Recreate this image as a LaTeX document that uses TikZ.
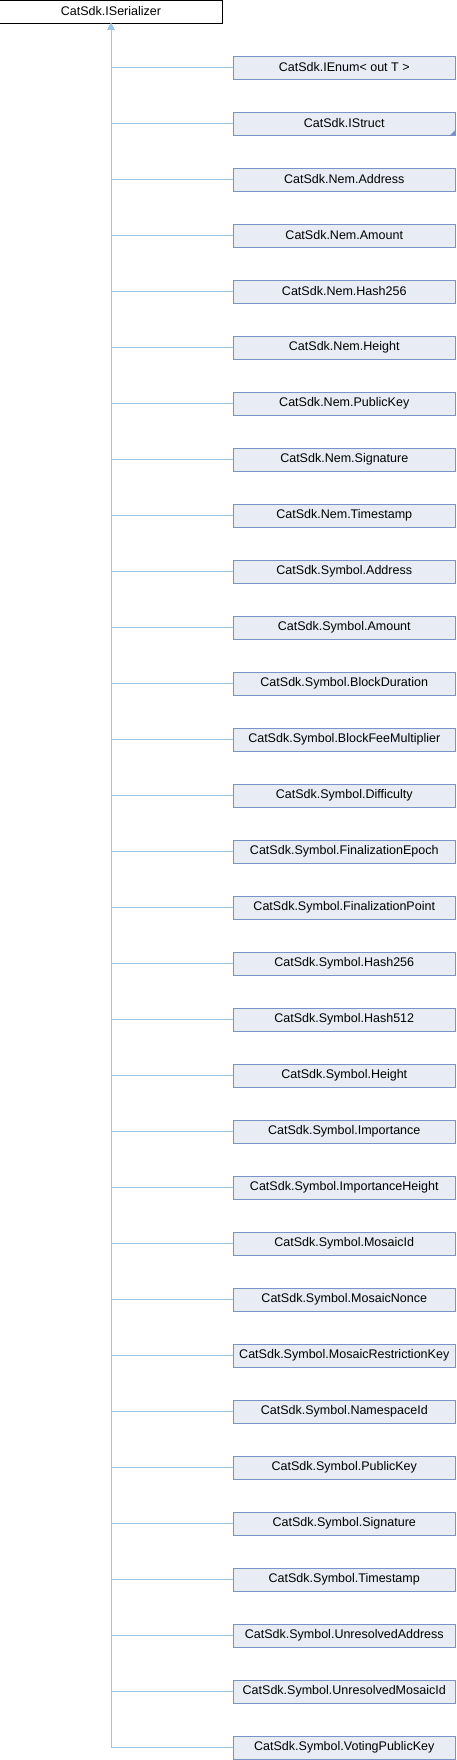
\documentclass[tikz,border=0pt]{standalone}
\usepackage{fontspec}
\setmainfont{Liberation Sans}
\usepackage{tikz}
\usetikzlibrary{arrows.meta}
\usetikzlibrary{calc}

\definecolor{edgeblue}{RGB}{158,196,230}
\definecolor{boxfill}{RGB}{232,236,244}
\definecolor{boxline}{RGB}{122,146,200}

\begin{document}
\begin{tikzpicture}[x=0.025cm,y=-0.025cm]
      \tikzstyle{dedge} = [-{Triangle[width=4.5pt,length=4.5pt]},draw=edgeblue,line width=0.7pt]
      \tikzstyle{base}=[
        rectangle,
        draw=black,
        fill=white,
        line width=0.7pt,
        anchor=center,
        inner sep=0pt,
        minimum width=5.55cm,
        minimum height=0.575cm,
        font=\fontsize{8.9}{10}\selectfont,
      ]
      \tikzstyle{cls}=[base, draw=boxline, fill=boxfill, minimum width=5.56cm]
      \newcommand{\cpos}[1]{(344.25,{67.5+56*#1})}

      \useasboundingbox (0,0) rectangle (456,1760);

      \node[base] (s0) at (111,11.5) {CatSdk.ISerializer};

      \node[cls] (c1) at \cpos{0} {CatSdk.IEnum< out T >};
      \node[cls] (c2) at \cpos{1} {CatSdk.IStruct};
      \node[cls] (c3) at \cpos{2} {CatSdk.Nem.Address};
      \node[cls] (c4) at \cpos{3} {CatSdk.Nem.Amount};
      \node[cls] (c5) at \cpos{4} {CatSdk.Nem.Hash256};
      \node[cls] (c6) at \cpos{5} {CatSdk.Nem.Height};
      \node[cls] (c7) at \cpos{6} {CatSdk.Nem.PublicKey};
      \node[cls] (c8) at \cpos{7} {CatSdk.Nem.Signature};
      \node[cls] (c9) at \cpos{8} {CatSdk.Nem.Timestamp};
      \node[cls] (c10) at \cpos{9} {CatSdk.Symbol.Address};
      \node[cls] (c11) at \cpos{10} {CatSdk.Symbol.Amount};
      \node[cls] (c12) at \cpos{11} {CatSdk.Symbol.BlockDuration};
      \node[cls] (c13) at \cpos{12} {CatSdk.Symbol.BlockFeeMultiplier};
      \node[cls] (c14) at \cpos{13} {CatSdk.Symbol.Difficulty};
      \node[cls] (c15) at \cpos{14} {CatSdk.Symbol.FinalizationEpoch};
      \node[cls] (c16) at \cpos{15} {CatSdk.Symbol.FinalizationPoint};
      \node[cls] (c17) at \cpos{16} {CatSdk.Symbol.Hash256};
      \node[cls] (c18) at \cpos{17} {CatSdk.Symbol.Hash512};
      \node[cls] (c19) at \cpos{18} {CatSdk.Symbol.Height};
      \node[cls] (c20) at \cpos{19} {CatSdk.Symbol.Importance};
      \node[cls] (c21) at \cpos{20} {CatSdk.Symbol.ImportanceHeight};
      \node[cls] (c22) at \cpos{21} {CatSdk.Symbol.MosaicId};
      \node[cls] (c23) at \cpos{22} {CatSdk.Symbol.MosaicNonce};
      \node[cls] (c24) at \cpos{23} {CatSdk.Symbol.MosaicRestrictionKey};
      \node[cls] (c25) at \cpos{24} {CatSdk.Symbol.NamespaceId};
      \node[cls] (c26) at \cpos{25} {CatSdk.Symbol.PublicKey};
      \node[cls] (c27) at \cpos{26} {CatSdk.Symbol.Signature};
      \node[cls] (c28) at \cpos{27} {CatSdk.Symbol.Timestamp};
      \node[cls] (c29) at \cpos{28} {CatSdk.Symbol.UnresolvedAddress};
      \node[cls] (c30) at \cpos{29} {CatSdk.Symbol.UnresolvedMosaicId};
      \node[cls] (c31) at \cpos{30} {CatSdk.Symbol.VotingPublicKey};

      % folded corner of IStruct
      \fill[boxline] (c2.south east) -- ++(0,-6) -- ++(-6,6) -- cycle;

      \draw[dedge] (c1.west) -| (s0.south);
      \draw[dedge] (c2.west) -| (s0.south);
      \draw[dedge] (c3.west) -| (s0.south);
      \draw[dedge] (c4.west) -| (s0.south);
      \draw[dedge] (c5.west) -| (s0.south);
      \draw[dedge] (c6.west) -| (s0.south);
      \draw[dedge] (c7.west) -| (s0.south);
      \draw[dedge] (c8.west) -| (s0.south);
      \draw[dedge] (c9.west) -| (s0.south);
      \draw[dedge] (c10.west) -| (s0.south);
      \draw[dedge] (c11.west) -| (s0.south);
      \draw[dedge] (c12.west) -| (s0.south);
      \draw[dedge] (c13.west) -| (s0.south);
      \draw[dedge] (c14.west) -| (s0.south);
      \draw[dedge] (c15.west) -| (s0.south);
      \draw[dedge] (c16.west) -| (s0.south);
      \draw[dedge] (c17.west) -| (s0.south);
      \draw[dedge] (c18.west) -| (s0.south);
      \draw[dedge] (c19.west) -| (s0.south);
      \draw[dedge] (c20.west) -| (s0.south);
      \draw[dedge] (c21.west) -| (s0.south);
      \draw[dedge] (c22.west) -| (s0.south);
      \draw[dedge] (c23.west) -| (s0.south);
      \draw[dedge] (c24.west) -| (s0.south);
      \draw[dedge] (c25.west) -| (s0.south);
      \draw[dedge] (c26.west) -| (s0.south);
      \draw[dedge] (c27.west) -| (s0.south);
      \draw[dedge] (c28.west) -| (s0.south);
      \draw[dedge] (c29.west) -| (s0.south);
      \draw[dedge] (c30.west) -| (s0.south);
      \draw[dedge] (c31.west) -| (s0.south);
    \end{tikzpicture}
\end{document}
